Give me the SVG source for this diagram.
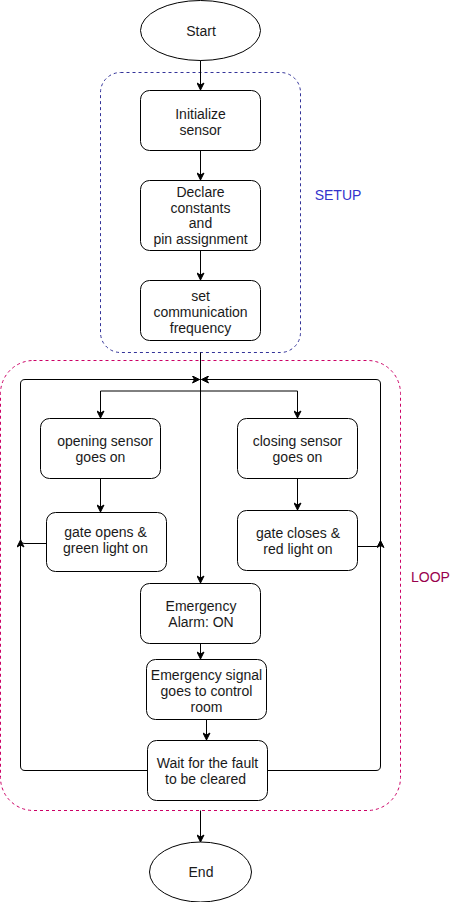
<svg xmlns="http://www.w3.org/2000/svg" width="451" height="902" viewBox="0 0 451 902">
<defs>
<marker id="arr" viewBox="-8 -4 9 8" markerWidth="9" markerHeight="8" refX="0" refY="0" orient="auto" markerUnits="userSpaceOnUse">
<path d="M-7,-3.5 L0,0 L-7,3.5 L-5,0 Z" fill="#000" stroke="#000" stroke-width="1"/>
</marker>
</defs>
<style>
.n{fill:#fff;stroke:#000;stroke-width:1}
.t{font-family:"Liberation Sans",Arial,sans-serif;font-size:14px;fill:#1a1a1a;text-anchor:middle}
.e{fill:none;stroke:#000;stroke-width:1}
.a{marker-end:url(#arr)}
</style>
<rect width="451" height="902" fill="#fff"/>
<g id="setup">
<rect x="100.5" y="72.5" width="200" height="280" rx="20" fill="none" stroke="#333399" stroke-dasharray="3 3"/>
<text x="338" y="200" class="t" style="fill:#3333CC">SETUP</text>
</g>
<g id="loop">
<rect x="0.5" y="360.5" width="400" height="450" rx="33" fill="none" stroke="#CC0066" stroke-dasharray="3 3"/>
<text x="430.5" y="582" class="t" style="fill:#99004D">LOOP</text>
</g>
<g id="connectors">
<path class="e a" d="M200.5 60 V90"/>
<path class="e a" d="M200.5 150 V180"/>
<path class="e a" d="M200.5 250 V280"/>
<path class="e a" d="M200.5 352.5 V583"/>
<path class="e a" d="M200.5 391 H100.5 V418"/>
<path class="e a" d="M200.5 391 H297.5 V418"/>
<path class="e a" d="M100.5 478 V512"/>
<path class="e a" d="M297.5 478 V510"/>
<path class="e a" d="M46 543.5 H25 Q20.5 543.5 20.5 539 V384 Q20.5 379.5 25 379.5 H199.5"/>
<path class="e a" d="M357 546.5 H376 Q380.5 546.5 380.5 542 V384 Q380.5 379.5 376 379.5 H201.5"/>
<path class="e a" d="M147 770.5 H25 Q20.5 770.5 20.5 766 V540"/>
<path class="e a" d="M267 770.5 H376 Q380.5 770.5 380.5 766 V540.5"/>
<path class="e a" d="M200.5 643 V659"/>
<path class="e a" d="M206.5 719 V740"/>
<path class="e a" d="M200.5 810.5 V842"/>
</g>
<g id="start">
<ellipse class="n" cx="200.5" cy="30.5" rx="60" ry="30"/>
<text x="201" y="36" class="t">Start</text>
</g>
<g id="init">
<rect class="n" x="140.5" y="90.5" width="120" height="60" rx="9"/>
<text class="t" x="200.5" y="118.5">Initialize</text>
<text class="t" x="200.5" y="134.5">sensor</text>
</g>
<g id="declare">
<rect class="n" x="140.5" y="180.5" width="120" height="70" rx="9"/>
<text class="t" x="200.5" y="196.5">Declare</text>
<text class="t" x="200.5" y="212.5">constants</text>
<text class="t" x="200.5" y="228">and</text>
<text class="t" x="200.5" y="244">pin assignment</text>
</g>
<g id="setfreq">
<rect class="n" x="140.5" y="280.5" width="120" height="60" rx="9"/>
<text class="t" x="200.5" y="300.5">set</text>
<text class="t" x="200.5" y="316.5">communication</text>
<text class="t" x="200.5" y="332.5">frequency</text>
</g>
<g id="opening">
<rect class="n" x="40.5" y="418.5" width="120" height="60" rx="9"/>
<text class="t" x="105" y="446">opening sensor</text>
<text class="t" x="100.5" y="462">goes on</text>
</g>
<g id="closing">
<rect class="n" x="237.5" y="418.5" width="120" height="60" rx="9"/>
<text class="t" x="297.5" y="446">closing sensor</text>
<text class="t" x="297.5" y="462">goes on</text>
</g>
<g id="gateopens">
<rect class="n" x="46.5" y="512.5" width="120" height="59" rx="9"/>
<text class="t" x="105.5" y="536.5">gate opens &amp;</text>
<text class="t" x="105.5" y="552.5">green light on</text>
</g>
<g id="gatecloses">
<rect class="n" x="237.5" y="510.5" width="120" height="60" rx="9"/>
<text class="t" x="298" y="538">gate closes &amp;</text>
<text class="t" x="298" y="554">red light on</text>
</g>
<g id="alarm">
<rect class="n" x="140.5" y="583.5" width="120" height="60" rx="9"/>
<text class="t" x="201" y="611">Emergency</text>
<text class="t" x="201" y="627">Alarm: ON</text>
</g>
<g id="signal">
<rect class="n" x="146.5" y="659.5" width="120" height="60" rx="9"/>
<text class="t" x="206.5" y="679.5">Emergency signal</text>
<text class="t" x="206.5" y="695.5">goes to control</text>
<text class="t" x="206.5" y="711.5">room</text>
</g>
<g id="wait">
<rect class="n" x="147.5" y="740.5" width="120" height="60" rx="9"/>
<text class="t" x="207.5" y="768">Wait for the fault</text>
<text class="t" x="205.5" y="784">to be cleared</text>
</g>
<g id="end">
<ellipse class="n" cx="200.5" cy="872" rx="51" ry="30"/>
<text class="t" x="201" y="877">End</text>
</g>
</svg>
